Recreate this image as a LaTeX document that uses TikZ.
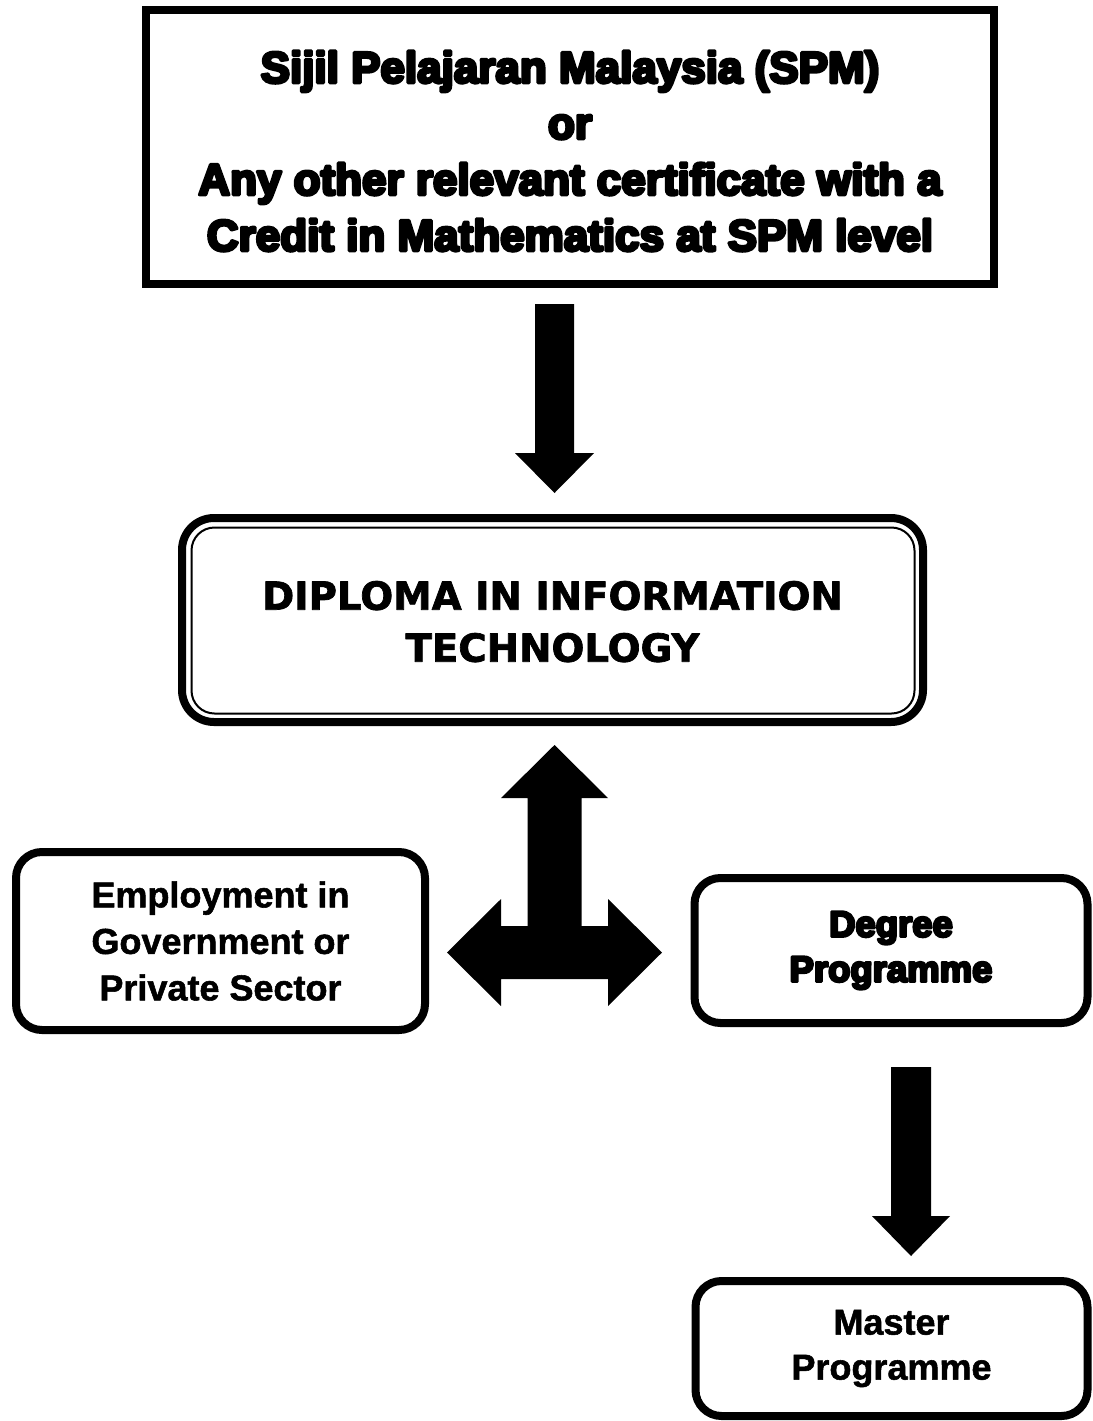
\documentclass[tikz,border=0pt]{standalone}
\usepackage{fontspec}
\setmainfont{Liberation Sans}
\newfontfamily\heavyfont{Liberation Sans}[UprightFont=* Bold, FakeBold=7]
\newfontfamily\plainbold{Liberation Sans}[UprightFont=* Bold, FakeBold=1.5]
\newfontfamily\verdbold{DejaVu Sans}[UprightFont=* Bold, FakeBold=1.8]
\newcommand\roundjoin{\special{pdf:literal direct 1 j 1 J}}
\usetikzlibrary{calc}
\begin{document}
\begin{tikzpicture}[x=1pt,y=-1pt,
  box/.style={draw, line width=8pt, inner sep=0pt, outer sep=0pt, align=center, text=black},
  rbox/.style={box, rounded corners=26pt},
  blockarrow/.style={fill=black, draw=none}]
\useasboundingbox[fill=white] (0,0) rectangle (1092,1421);

\node[box, minimum width=848pt, minimum height=274pt,
      font=\heavyfont\fontsize{44}{56}\selectfont] (spm) at (570,147)
  {\roundjoin\rule{0pt}{40pt}Sijil Pelajaran Malaysia (SPM)\\or\\Any other relevant certificate with a\\Credit in Mathematics at SPM level};

\node[box, rounded corners=32pt, minimum width=741pt, minimum height=204pt,
      font=\verdbold\fontsize{38.7}{52}\selectfont] (dip) at (552.5,620)
  {\roundjoin\rule{0pt}{32pt}DIPLOMA IN INFORMATION\\TECHNOLOGY};
\draw[line width=2pt, rounded corners=23pt]
  ($(dip.north west)+(9.5,9.5)$) rectangle ($(dip.south east)+(-8.5,-8.5)$);

\node[rbox, minimum width=409pt, minimum height=178pt,
      font=\plainbold\fontsize{36}{46.5}\selectfont] (emp) at (220.5,941)
  {\roundjoin Employment in\\Government or\\Private Sector};

\node[rbox, minimum width=393pt, minimum height=145pt,
      font=\heavyfont\fontsize{36.5}{45}\selectfont] (deg) at (891,950.5)
  {\roundjoin Degree\\Programme};

\node[rbox, minimum width=392pt, minimum height=135pt,
      font=\plainbold\fontsize{36}{45}\selectfont] (mas) at (891.5,1348.5)
  {\roundjoin Master\\Programme};

% arrow SPM -> Diploma
\coordinate (a1) at (554.5,304);
\fill[blockarrow] (a1) -- ++(-19.5,0) -- ++(0,149) -- ++(-20,0) -- ++(39.5,40) -- ++(39.5,-40) -- ++(-20,0) -- ++(0,-149) -- cycle;

% T arrow Diploma <-> Employment / Degree
\coordinate (t) at (554.5,745);
\fill[blockarrow] (t) -- ++(53.5,53) -- ++(-26.5,0) -- ++(0,128) -- ++(26.5,0) -- ++(0,-27)
  -- (662,952.5) -- (608,1006) -- ++(0,-27) -- ++(-107,0) -- ++(0,27) -- (447,952.5) -- (501,899)
  -- ++(0,27) -- ++(26.5,0) -- ++(0,-128) -- ++(-26.5,0) -- cycle;

% arrow Degree -> Master
\coordinate (a2) at (911,1067);
\fill[blockarrow] (a2) -- ++(-20,0) -- ++(0,149) -- ++(-19,0) -- ++(39,40) -- ++(39,-40) -- ++(-19,0) -- ++(0,-149) -- cycle;
\end{tikzpicture}
\end{document}
